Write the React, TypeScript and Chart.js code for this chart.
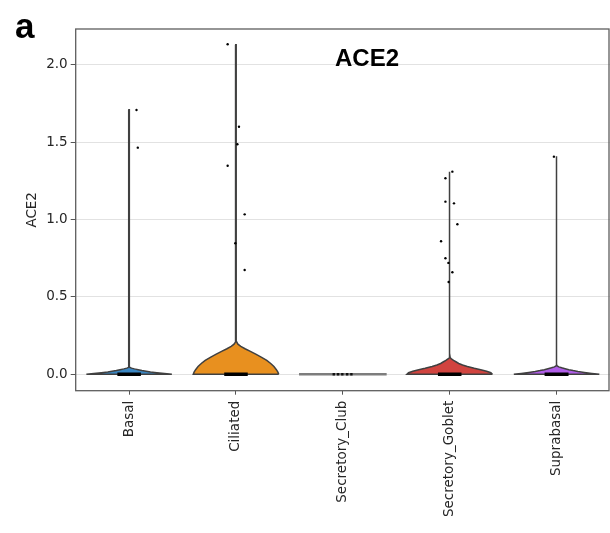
import React, { useEffect, useRef } from 'react';
import { Chart, registerables } from 'chart.js';

Chart.register(...registerables);

// ---------- data ----------
const categories = ['Basal', 'Ciliated', 'Secretory_Club', 'Secretory_Goblet', 'Suprabasal'];
const yTickValues = [0, 0.5, 1.0, 1.5, 2.0];

// violin outlines: expression level (y) and half width of the violin (in category units)
const basalY = [0, 0.005, 0.01, 0.015, 0.02, 0.025, 0.03, 0.035, 0.04, 0.045, 0.05, 1.71];
const basalW = [0.4, 0.33, 0.26, 0.2, 0.16, 0.12, 0.085, 0.05, 0.022, 0.006, 0.002, 0.002];

const ciliatedY = [0, 0.015, 0.03, 0.05, 0.07, 0.09, 0.11, 0.13, 0.15, 0.165, 0.18, 0.195, 0.21, 0.23, 2.13];
const ciliatedW = [0.4, 0.392, 0.378, 0.355, 0.325, 0.288, 0.24, 0.185, 0.13, 0.085, 0.045, 0.018, 0.006, 0.002, 0.002];

const clubY = [0, 0];
const clubW = [0.41, 0.41];

const gobletY = [0, 0.01, 0.02, 0.03, 0.039, 0.05, 0.06, 0.07, 0.081, 0.09, 0.1, 0.107, 0.12, 1.31];
const gobletW = [0.4, 0.385, 0.345, 0.29, 0.23, 0.165, 0.12, 0.085, 0.058, 0.036, 0.016, 0.005, 0.002, 0.002];

const supraY = [0, 0.006, 0.012, 0.018, 0.024, 0.03, 0.036, 0.042, 0.048, 0.054, 0.06, 1.41];
const supraW = [0.4, 0.33, 0.26, 0.2, 0.155, 0.115, 0.08, 0.048, 0.02, 0.006, 0.002, 0.002];

// jittered individual cells (category index, value, jitter offset)
const pointCategory = [0, 0, 1, 1, 1, 1, 1, 1, 1, 3, 3, 3, 3, 3, 3, 3, 3, 3, 3, 4];
const pointValue = [1.708, 1.465, 2.133, 1.6, 1.487, 1.348, 1.034, 0.847, 0.674, 1.31, 1.267, 1.116, 1.105, 0.97, 0.86, 0.75, 0.72, 0.66, 0.597, 1.407];
const pointJitter = [0.069, 0.081, -0.078, 0.028, 0.013, -0.078, 0.081, -0.006, 0.081, 0.025, -0.04, -0.04, 0.04, 0.072, -0.081, -0.04, -0.012, 0.025, -0.01, -0.025];

// cells at zero (dense band) – jitter extent per category
const zeroBandHalfWidth = [0.11, 0.11, 0, 0.11, 0.112];
// Secretory_Club: few cells at zero
const clubZeroJitter = [-0.085, -0.045, -0.005, 0.04, 0.08];

// ---------- styles ----------
const violinColors = ['#3a86c2', '#e8901f', '#808080', '#d1443f', '#b05de8'];
const outlineColor = '#404040';
const textColor = '#262626';
const tickFont = { family: 'DejaVu Sans', size: 13.5 };

function violinData(ci: number, ys: number[], ws: number[]) {
  const right = ys.map((y, k) => ({ x: ci + ws[k], y }));
  const left = ys.map((y, k) => ({ x: ci - ws[k], y })).reverse();
  return [...right, ...left, right[0]];
}

const framePlugin = {
  id: 'frameAndText',
  afterDatasetsDraw(chart: any) {
    const { ctx, chartArea } = chart;
    ctx.save();
    ctx.strokeStyle = '#5e5e5e';
    ctx.lineWidth = 1.3;
    ctx.strokeRect(chartArea.left, chartArea.top, chartArea.right - chartArea.left - 1, chartArea.bottom - chartArea.top);
    ctx.restore();
  },
  afterDraw(chart: any) {
    const { ctx } = chart;
    ctx.save();
    ctx.fillStyle = '#000';
    ctx.textBaseline = 'alphabetic';
    ctx.textAlign = 'left';
    ctx.font = 'bold 35px "Liberation Sans"';
    ctx.fillText('a', 15, 38);
    ctx.font = 'bold 24px "Liberation Sans"';
    ctx.fillText('ACE2', 335, 66);
    ctx.restore();
  },
};

export default function App() {
  const canvasRef = useRef<HTMLCanvasElement | null>(null);

  useEffect(() => {
    if (!canvasRef.current) return;
    const shapes = [
      [basalY, basalW],
      [ciliatedY, ciliatedW],
      [clubY, clubW],
      [gobletY, gobletW],
      [supraY, supraW],
    ];
    const datasets: any[] = [];

    // individual points
    datasets.push({
      label: 'cells',
      data: pointValue.map((v, k) => ({ x: pointCategory[k] + pointJitter[k], y: v })),
      showLine: false,
      pointRadius: 1.2,
      pointBackgroundColor: '#000',
      pointBorderWidth: 0,
      order: 0,
    });
    datasets.push({
      label: 'club cells',
      data: clubZeroJitter.map((j) => ({ x: 2 + j, y: 0 })),
      showLine: false,
      pointRadius: 1.7,
      pointStyle: 'rect',
      pointBackgroundColor: '#111',
      pointBorderWidth: 0,
      order: 0,
    });
    // dense zero bands
    zeroBandHalfWidth.forEach((hw, ci) => {
      if (hw <= 0) return;
      datasets.push({
        label: 'zero-' + categories[ci],
        data: [{ x: ci - hw, y: 0 }, { x: ci + hw, y: 0 }],
        borderColor: '#000',
        borderWidth: 3.6,
        pointRadius: 0,
        fill: false,
        order: 1,
      });
    });
    // violins
    shapes.forEach(([ys, ws], ci) => {
      const flat = ci === 2;
      datasets.push({
        label: categories[ci],
        data: violinData(ci, ys, ws),
        borderColor: flat ? '#7d7d7d' : outlineColor,
        borderWidth: flat ? 2.5 : 1.5,
        backgroundColor: violinColors[ci],
        fill: flat ? false : 'shape',
        pointRadius: 0,
        tension: 0,
        order: 2,
      });
    });

    const chart = new Chart(canvasRef.current, {
      type: 'line',
      data: { datasets },
      plugins: [framePlugin],
      options: {
        animation: false,
        responsive: false,
        devicePixelRatio: 1,
        events: [],
        layout: { autoPadding: false, padding: { top: 29, right: 0, left: 0, bottom: 0 } },
        plugins: {
          legend: { display: false },
          tooltip: { enabled: false },
          title: { display: false },
        },
        scales: {
          x: {
            type: 'linear',
            min: -0.5,
            max: 4.5,
            afterBuildTicks: (s: any) => {
              s.ticks = categories.map((_, i) => ({ value: i }));
            },
            afterFit: (s: any) => {
              s.height = 142.3;
              s.paddingLeft = 0;
              s.paddingRight = 0;
            },
            ticks: {
              callback: (v: any) => categories[Math.round(Number(v))] ?? '',
              minRotation: 90,
              maxRotation: 90,
              autoSkip: false,
              padding: 6,
              color: textColor,
              font: tickFont,
            },
            grid: {
              drawOnChartArea: false,
              drawTicks: true,
              tickLength: 4,
              tickColor: '#555',
              tickWidth: 1,
            },
            border: { display: false },
          },
          y: {
            type: 'linear',
            min: -0.106,
            max: 2.232,
            afterBuildTicks: (s: any) => {
              s.ticks = yTickValues.map((v) => ({ value: v }));
            },
            afterFit: (s: any) => {
              s.width = 75.7;
              s.paddingTop = 0;
              s.paddingBottom = 0;
            },
            ticks: {
              callback: (v: any) => Number(v).toFixed(1),
              padding: 3,
              color: textColor,
              font: tickFont,
            },
            grid: {
              color: '#e2e2e2',
              lineWidth: 1,
              drawTicks: true,
              tickLength: 5,
              tickColor: '#555',
            },
            border: { display: false },
            title: {
              display: true,
              text: 'ACE2',
              color: textColor,
              font: tickFont,
              padding: { top: 24, bottom: 0 },
            },
          },
        },
      },
    } as any);
    return () => chart.destroy();
  }, []);

  return (
    <div style={{ position: 'fixed', left: 0, top: 0, width: 610, height: 533, background: '#fff' }}>
      <canvas ref={canvasRef} width={610} height={533} style={{ display: 'block' }} />
    </div>
  );
}
